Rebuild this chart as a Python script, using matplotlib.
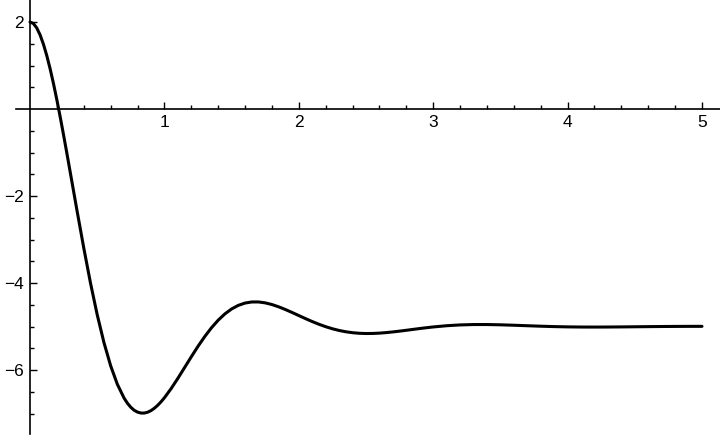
import matplotlib
matplotlib.use("Agg")
import matplotlib.pyplot as plt
from matplotlib.ticker import FixedLocator

# curve samples
t_vals = [0.000, 0.025, 0.050, 0.075, 0.100, 0.125, 0.150, 0.175, 0.200, 0.225,
          0.250, 0.275, 0.30, 0.35, 0.40, 0.45,
          0.50, 0.55, 0.60, 0.65, 0.70, 0.725, 0.75, 0.775, 0.80, 0.825,
          0.85, 0.875, 0.90, 0.925, 0.95, 0.975,
          1.00, 1.05, 1.10, 1.15, 1.20, 1.25, 1.30, 1.35, 1.40, 1.45,
          1.50, 1.55, 1.60, 1.65, 1.70, 1.75, 1.80, 1.85, 1.90, 1.95,
          2.00, 2.05, 2.10, 2.15, 2.20, 2.25, 2.30, 2.35, 2.40, 2.45,
          2.50, 2.55, 2.60, 2.65, 2.70, 2.75, 2.80, 2.85, 2.90, 2.95,
          3.00, 3.10, 3.20, 3.30, 3.40, 3.50, 3.60, 3.70, 3.80, 3.90,
          4.00, 4.10, 4.20, 4.30, 4.40, 4.50, 4.60, 4.70, 4.80, 4.90, 5.00]
y_vals = [2.000, 1.9653, 1.8645, 1.7039, 1.489, 1.2259, 0.9208, 0.5796, 0.2083, -0.1874,
          -0.6017, -1.0290, -1.4649, -2.3392, -3.1935, -3.9993,
          -4.7285, -5.3666, -5.9020, -6.3289, -6.6459, -6.7643, -6.8570, -6.9251, -6.9680, -6.9893,
          -6.9898, -6.9706, -6.9337, -6.8799, -6.8118, -6.7308,
          -6.6387, -6.4279, -6.1927, -5.9451, -5.6967, -5.4558, -5.2318, -5.0302, -4.8556, -4.7106,
          -4.5968, -4.5141, -4.4612, -4.4360, -4.4356, -4.4566, -4.4952, -4.5474, -4.6095, -4.6776,
          -4.7484, -4.8189, -4.8865, -4.9487, -5.0043, -5.0520, -5.0911, -5.1213, -5.1427, -5.1558,
          -5.1611, -5.1597, -5.1524, -5.1403, -5.1247, -5.1065, -5.0869, -5.0667, -5.0468, -5.0279,
          -5.0105, -4.9822, -4.9637, -4.9551, -4.9549, -4.9611, -4.9710, -4.9824, -4.9933, -5.0023,
          -5.0087, -5.0122, -5.0131, -5.0119, -5.0094, -5.0062, -5.0030, -5.0002, -4.9981, -4.9968, -4.9963]

x_ticks = [1, 2, 3, 4, 5]
x_ticklabels = ["1", "2", "3", "4", "5"]
x_minor = [0.2, 0.4, 0.6, 0.8, 1.2, 1.4, 1.6, 1.8, 2.2, 2.4, 2.6, 2.8,
           3.2, 3.4, 3.6, 3.8, 4.2, 4.4, 4.6, 4.8]
y_ticks = [-6, -4, -2, 2]
y_ticklabels = ["\u22126", "\u22124", "\u22122", "2"]
y_minor = [-7.0, -6.5, -5.5, -5.0, -4.5, -3.5, -3.0, -2.5, -1.5, -1.0, -0.5,
           0.5, 1.0, 1.5]

plt.rcParams['font.family'] = ['Liberation Sans', 'DejaVu Sans']

fig = plt.figure(figsize=(7.2, 4.38), dpi=100)
ax = fig.add_axes([0, 0, 1, 1])

ax.plot(t_vals, y_vals, color="black", lw=2.2, solid_capstyle="round",
        solid_joinstyle="round")

x_scale = 134.4
y_scale = 43.5
ax.set_xlim(-30 / x_scale, (720 - 30) / x_scale)
ax.set_ylim(-(438 - 109) / y_scale, 109 / y_scale)

for s in ["top", "right"]:
    ax.spines[s].set_visible(False)
ax.spines["left"].set_position(("data", 0))
ax.spines["bottom"].set_position(("data", 0))
ax.spines["left"].set_linewidth(1.2)
ax.spines["bottom"].set_linewidth(1.2)
ax.spines["bottom"].set_bounds(-14 / x_scale, (720 - 30) / x_scale)
ax.spines["left"].set_bounds(-(434 - 109) / y_scale, 109 / y_scale)

ax.xaxis.set_major_locator(FixedLocator(x_ticks))
ax.set_xticklabels(x_ticklabels)
ax.xaxis.set_minor_locator(FixedLocator(x_minor))
ax.yaxis.set_major_locator(FixedLocator(y_ticks))
ax.set_yticklabels(y_ticklabels)
ax.yaxis.set_minor_locator(FixedLocator(y_minor))

ax.tick_params(axis="x", which="both", direction="in", width=1.0, labelsize=12.5, pad=4.2)
ax.tick_params(axis="y", which="both", direction="in", width=1.0, labelsize=12.5, pad=4.5)
ax.tick_params(which="major", length=5)
ax.tick_params(which="minor", length=2.8)
ax.patch.set_alpha(0)

fig.savefig("out.png", dpi=100)
